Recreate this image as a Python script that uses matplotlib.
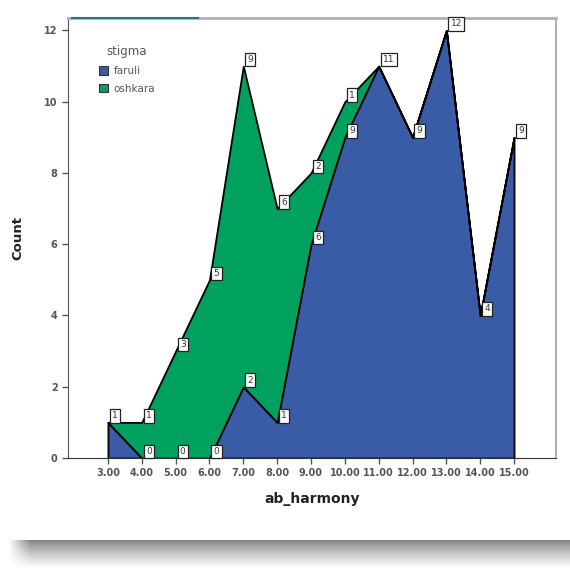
import matplotlib
matplotlib.use("Agg")
import matplotlib.pyplot as plt
import numpy as np
from matplotlib.patches import Patch
from matplotlib.lines import Line2D

x_vals = [3, 4, 5, 6, 7, 8, 9, 10, 11, 12, 13, 14, 15]
faruli = [1, 0, 0, 0, 2, 1, 6, 9, 11, 9, 12, 4, 9]
oshkara = [0, 1, 3, 5, 9, 6, 2, 1, 0, 0, 0, 0, 0]
series_names = ["faruli", "oshkara"]
legend_title = "stigma"
xtick_labels = ["3.00", "4.00", "5.00", "6.00", "7.00", "8.00", "9.00", "10.00",
                "11.00", "12.00", "13.00", "14.00", "15.00"]
yticks = [0, 2, 4, 6, 8, 10, 12]

blue = "#3a5ba6"
green = "#00a05e"

fig = plt.figure(figsize=(5.70, 5.73), dpi=100)
ax = fig.add_axes([68/570, 1-458/573, (556-68)/570, (458-18)/573])

ax.stackplot(x_vals, faruli, oshkara, colors=[blue, green],
             edgecolor="black", linewidth=1.3)

total = np.array(faruli) + np.array(oshkara)

box = dict(boxstyle="square,pad=0.25", fc="white", ec="#222222", lw=0.9)
for xi, f, o, t in zip(x_vals, faruli, oshkara, total):
    ax.annotate(str(f), (xi, f), xytext=(3, 1.5), textcoords="offset points",
                ha="left", va="bottom", fontsize=6.5, color="#333333", bbox=box)
    if o > 0:
        ax.annotate(str(o), (xi, t), xytext=(3, 1.5), textcoords="offset points",
                    ha="left", va="bottom", fontsize=6.5, color="#333333", bbox=box)

ax.set_xlim(1.82, 16.24)
ax.set_ylim(0, 12.35)
ax.set_xticks(x_vals)
ax.set_xticklabels(xtick_labels)
ax.set_yticks(yticks)
ax.tick_params(axis="both", direction="out", length=4, width=1, color="#555555",
               labelsize=7, labelcolor="#555555")
for lab in ax.get_xticklabels() + ax.get_yticklabels():
    lab.set_fontweight("bold")

ax.spines["left"].set_color("#555555")
ax.spines["bottom"].set_color("#333333")
ax.spines["top"].set_color("#b4aebb")
ax.spines["right"].set_color("#b4aebb")
ax.spines["top"].set_linewidth(2)
ax.spines["right"].set_linewidth(1.5)

ax.set_xlabel("ab_harmony", fontsize=10, fontweight="bold", color="#222222", labelpad=10)
ax.set_ylabel("Count", fontsize=9.5, fontweight="bold", color="#222222", labelpad=14)

handles = [Patch(facecolor=blue, edgecolor="#333333", lw=0.8),
           Patch(facecolor=green, edgecolor="#333333", lw=0.8)]
leg = ax.legend(handles, series_names, title=legend_title, loc="upper left",
                bbox_to_anchor=(0.048, 0.955), frameon=False, fontsize=7.5,
                title_fontsize=8.5, handlelength=0.9, handleheight=0.9,
                handletextpad=0.5, labelspacing=0.75, borderpad=0.2)
for t in leg.get_texts():
    t.set_color("#555555")
leg.get_title().set_color("#555555")

# teal line near top
fig.add_artist(Line2D([72/570, 198/570], [1-18/573, 1-18/573], color="#1f7a82", lw=1.5))

# bottom shadow
sh = fig.add_axes([0, 1-568/573, 1, (568-540)/573])
rows = np.linspace(0, 1, 40)
vert = 0.5 + 0.5 * rows ** 0.8
cols = np.linspace(0, 570, 570)
horiz = np.clip((cols - 8) / 22, 0, 1)
img = 1 - (1 - vert[:, None]) * horiz[None, :]
sh.imshow(img, cmap="gray", vmin=0, vmax=1, aspect="auto", interpolation="bilinear")
sh.axis("off")

fig.savefig("out.png", dpi=100)
